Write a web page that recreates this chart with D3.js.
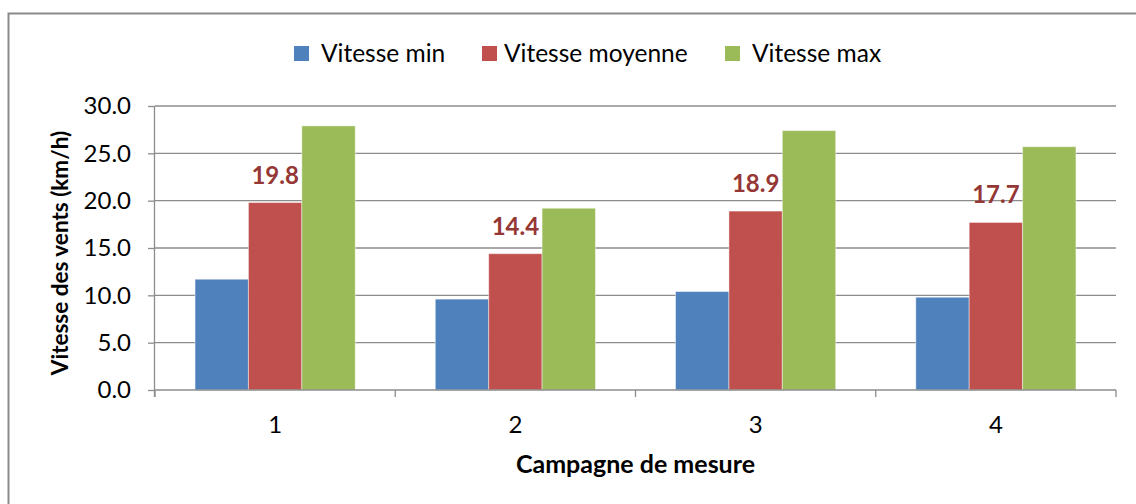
<!DOCTYPE html>
<html><head><meta charset="utf-8">
<script src="https://cdn.jsdelivr.net/npm/d3@7"></script>
<style>html,body{margin:0;padding:0;background:#fff;}svg{display:block;}</style>
</head><body>
<svg id="c" width="1136" height="504"></svg>
<script>
const categories = ["1", "2", "3", "4"];
const seriesNames = ["Vitesse min", "Vitesse moyenne", "Vitesse max"];
const vMin = [11.7, 9.6, 10.4, 9.8];
const vMoy = [19.8, 14.4, 18.9, 17.7];
const vMax = [27.9, 19.2, 27.4, 25.7];
const yTicks = [0, 5, 10, 15, 20, 25, 30];
const colors = ["#4F81BD", "#C0504D", "#9BBB59"];
const series = [vMin, vMoy, vMax];

const FONT = "Lato, 'Open Sans', sans-serif";
const svg = d3.select("#c");
const M = {left: 155, right: 1116, top: 106, bottom: 390};

// outer frame
svg.append("path").attr("d", "M8.5,504 L8.5,13.5 L1136,13.5")
  .attr("fill", "none").attr("stroke", "#8a8a8a").attr("stroke-width", 2);

const x0 = d3.scaleBand().domain(categories).range([M.left, M.right]).paddingInner(0).paddingOuter(0);
const inner = 3 / 4.5;
const x1 = d3.scaleBand().domain(seriesNames).range([0, x0.bandwidth() * inner]);
const y = d3.scaleLinear().domain([0, 30]).range([M.bottom, M.top]);

// gridlines
svg.append("g").selectAll("line").data(yTicks.filter(d => d > 0)).join("line")
  .attr("x1", M.left).attr("x2", M.right)
  .attr("y1", d => y(d)).attr("y2", d => y(d))
  .attr("stroke", "#8c8c8c").attr("stroke-width", 1.3);

// bars
const offset = x0.bandwidth() * (1 - inner) / 2;
series.forEach((vals, si) => {
  svg.append("g").selectAll("rect").data(vals).join("rect")
    .attr("x", (d, i) => x0(categories[i]) + offset + x1(seriesNames[si]))
    .attr("width", x1.bandwidth())
    .attr("y", d => y(d))
    .attr("height", d => y(0) - y(d))
    .attr("fill", colors[si])
    .attr("stroke", "rgba(255,255,255,0.45)").attr("stroke-width", 1);
});

// data labels for moyenne
svg.append("g").selectAll("text").data(vMoy).join("text")
  .attr("x", (d, i) => x0(categories[i]) + offset + x1(seriesNames[1]) + x1.bandwidth() / 2)
  .attr("y", d => y(d) - 19)
  .attr("text-anchor", "middle")
  .attr("font-family", FONT).attr("font-weight", "bold").attr("font-size", 24)
  .attr("fill", "#953735")
  .text(d => d.toFixed(1));

// y axis
const yAxis = d3.axisLeft(y).tickValues(yTicks).tickFormat(d3.format(".1f")).tickSize(7).tickPadding(17);
const gy = svg.append("g").attr("transform", `translate(${M.left},0)`).call(yAxis);
gy.select(".domain").attr("d", `M-0.5,${M.top}V${M.bottom + 7}`).attr("stroke", "#8c8c8c").attr("stroke-width", 1.3);
gy.selectAll(".tick line").attr("stroke", "#8c8c8c").attr("stroke-width", 1.3);
gy.selectAll(".tick text").attr("font-family", FONT).attr("font-size", 24).attr("fill", "#000");

// x axis
const gx = svg.append("g").attr("transform", `translate(0,${M.bottom})`);
gx.append("line").attr("x1", M.left).attr("x2", M.right).attr("y1", 0).attr("y2", 0)
  .attr("stroke", "#8c8c8c").attr("stroke-width", 1.3);
const bounds = categories.map(c => x0(c)).concat([M.right]);
gx.selectAll("line.tk").data(bounds).join("line").attr("class", "tk")
  .attr("x1", d => d).attr("x2", d => d).attr("y1", 0).attr("y2", 7)
  .attr("stroke", "#8c8c8c").attr("stroke-width", 1.3);
gx.selectAll("text").data(categories).join("text")
  .attr("x", d => x0(d) + x0.bandwidth() / 2).attr("y", 43)
  .attr("text-anchor", "middle").attr("font-family", FONT).attr("font-size", 24).attr("fill", "#000")
  .text(d => d);

// axis titles
svg.append("text").attr("x", (M.left + M.right) / 2).attr("y", 473)
  .attr("text-anchor", "middle").attr("font-family", FONT).attr("font-weight", "bold").attr("font-size", 25)
  .text("Campagne de mesure");
svg.append("text").attr("transform", `translate(68,${(M.top + M.bottom) / 2 + 5}) rotate(-90)`)
  .attr("text-anchor", "middle").attr("font-family", FONT).attr("font-weight", "bold").attr("font-size", 22.5)
  .text("Vitesse des vents (km/h)");

// legend
const legX = [294, 482, 725];
const lg = svg.append("g").selectAll("g").data(seriesNames).join("g")
  .attr("transform", (d, i) => `translate(${legX[i]},46)`);
lg.append("rect").attr("width", 15).attr("height", 15).attr("fill", (d, i) => colors[i]);
lg.append("text").attr("x", (d, i) => i === 1 ? 22 : 27).attr("y", 16)
  .attr("font-family", FONT).attr("font-size", 24.5).attr("fill", "#000").text(d => d);
</script>
</body></html>
